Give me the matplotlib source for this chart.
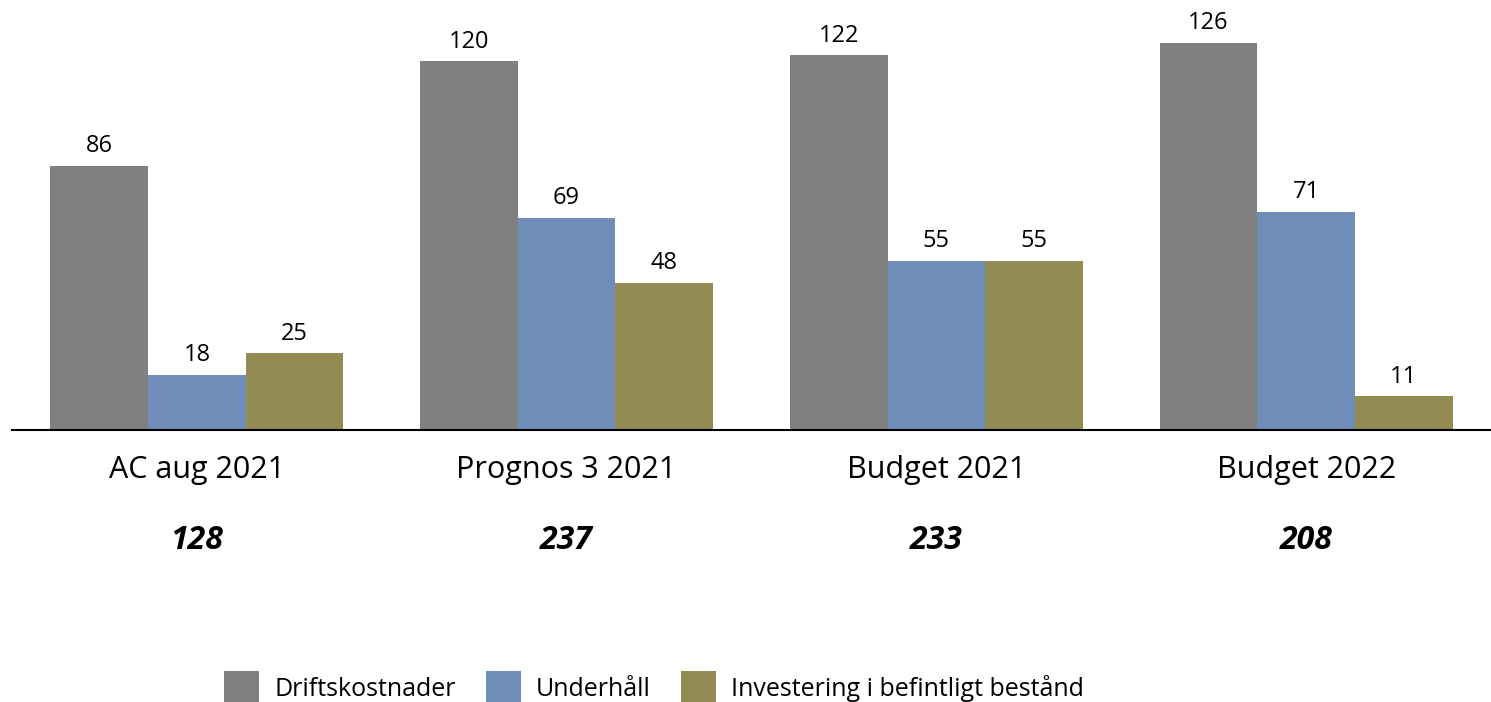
import numpy as np
import matplotlib
matplotlib.use('Agg')
import matplotlib.pyplot as plt

plt.rcParams['font.family'] = ['Open Sans', 'DejaVu Sans']

categories = ['AC aug 2021', 'Prognos 3 2021', 'Budget 2021', 'Budget 2022']
totals = ['128', '237', '233', '208']
series_names = ['Driftskostnader', 'Underhåll', 'Investering i befintligt bestånd']
drift = [86, 120, 122, 126]
underhall = [18, 69, 55, 71]
investering = [25, 48, 55, 11]
colors = ['#808080', '#6F8DB9', '#948A54']

fig = plt.figure(figsize=(14.91, 7.02), dpi=100)
ax = fig.add_axes([12/1491, (702-430)/702, 1 - 12/1491, 430/702])

x = np.arange(len(categories))
w = 0.264
for i, (vals, name) in enumerate(zip([drift, underhall, investering], series_names)):
    bars = ax.bar(x + (i - 1) * w, vals, w, color=colors[i], label=name)
    for b, v in zip(bars, vals):
        ax.text(b.get_x() + b.get_width() / 2, v + 2.5, str(v),
                ha='center', va='bottom', fontsize=17)

ax.set_xlim(-0.5, 3.5)
ax.set_ylim(0, 140)
ax.set_yticks([])
ax.set_xticks(x)
ax.set_xticklabels(categories, fontsize=22)
ax.tick_params(axis='x', length=0, pad=18)
for s in ['top', 'right', 'left']:
    ax.spines[s].set_visible(False)
ax.spines['bottom'].set_linewidth(1.5)

for xi, t in zip(x, totals):
    ax.text(xi, -36, t, ha='center', va='center', fontsize=23,
            fontweight='bold', fontstyle='italic')

fig.legend(loc='center', bbox_to_anchor=(654/1491, 1 - 688/702), ncol=3,
           frameon=False, fontsize=18, handlelength=1.4, handleheight=1.7,
           handletextpad=0.6, columnspacing=1.2)

fig.savefig('out.png', dpi=100)
